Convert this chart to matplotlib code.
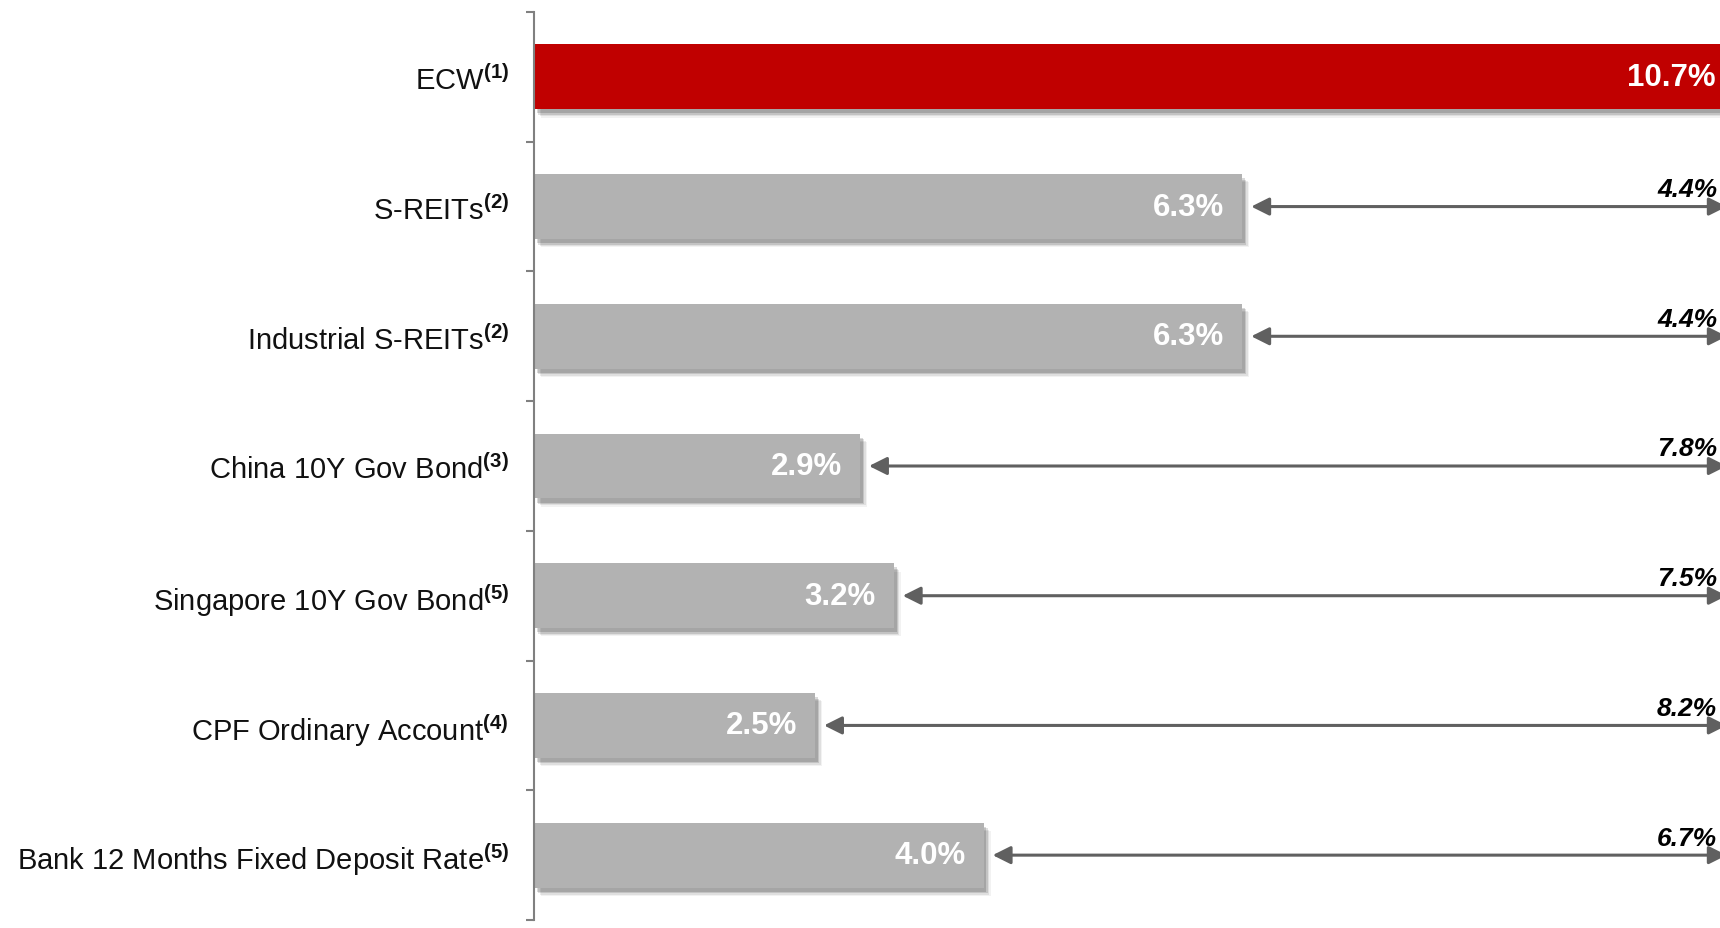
import matplotlib
matplotlib.use("Agg")
import matplotlib.pyplot as plt
import matplotlib.patheffects as pe

plt.rcParams['font.family'] = ['Liberation Sans', 'DejaVu Sans']
plt.rcParams['mathtext.fontset'] = 'custom'
plt.rcParams['mathtext.rm'] = 'Liberation Sans'
plt.rcParams['mathtext.bf'] = 'Liberation Sans:bold'

categories = ["ECW", "S-REITs", "Industrial S-REITs", "China 10Y Gov Bond",
              "Singapore 10Y Gov Bond", "CPF Ordinary Account",
              "Bank 12 Months Fixed Deposit Rate"]
notes = ["1", "2", "2", "3", "5", "4", "5"]
yields = [10.7, 6.3, 6.3, 2.9, 3.2, 2.5, 4.0]
spreads = [None, 4.4, 4.4, 7.8, 7.5, 8.2, 6.7]

RED = "#C00000"
GRAY = "#B2B2B2"
ARROW = "#606060"

fig = plt.figure(figsize=(17.2, 9.29), dpi=100)
ax = fig.add_axes([534 / 1720, 8 / 929, 1 - 534 / 1720, 908 / 929])

n = len(categories)
ypos = list(range(n))
colors = [RED] + [GRAY] * (n - 1)

shadow = [pe.SimplePatchShadow(offset=(5, -6), shadow_rgbFace="#000000", alpha=0.05),
          pe.SimplePatchShadow(offset=(4, -5), shadow_rgbFace="#000000", alpha=0.08),
          pe.SimplePatchShadow(offset=(3, -4), shadow_rgbFace="#000000", alpha=0.12),
          pe.SimplePatchShadow(offset=(2, -3), shadow_rgbFace="#000000", alpha=0.15),
          pe.Normal()]

bars = ax.barh(ypos, yields, height=0.5, color=colors, zorder=3, clip_on=True)
for b in bars:
    b.set_path_effects(shadow)

xmax = 10.55
for y, v in zip(ypos, yields):
    xt = min(v, xmax + 0.12)
    ax.annotate(f"{v:.1f}%", xy=(xt, y), xytext=(-13, 0), textcoords="offset points",
                ha="right", va="center", color="white", fontsize=22.5,
                fontweight="bold", zorder=5, annotation_clip=False)

for y, v, s in zip(ypos, yields, spreads):
    if s is None:
        continue
    ax.annotate("", xy=(v + 0.08, y), xytext=(xmax + 0.06, y),
                arrowprops=dict(arrowstyle="<|-|>", color=ARROW, lw=2.2,
                                mutation_scale=27, shrinkA=0, shrinkB=0),
                zorder=4, annotation_clip=False)
    ax.annotate(f"{s:.1f}%", xy=(xmax, y), xytext=(-2, 4), textcoords="offset points",
                ha="right", va="bottom", color="black", fontsize=19,
                fontweight="bold", fontstyle="italic", zorder=5,
                annotation_clip=False)

ax.set_xlim(0, xmax)
ax.set_ylim(n - 0.5, -0.5)

labels = [rf"{c}$^{{\mathbf{{({k})}}}}$" for c, k in zip(categories, notes)]
ax.set_yticks(ypos)
ax.set_yticklabels(labels, fontsize=21, color="#111111")
ax.tick_params(axis="y", which="major", length=0, pad=18)
ax.set_yticks([i - 0.5 for i in range(n + 1)], minor=True)
ax.tick_params(axis="y", which="minor", length=6, width=1.5, color="#808080", direction="out")
ax.set_xticks([])

for s in ["top", "right", "bottom"]:
    ax.spines[s].set_visible(False)
ax.spines["left"].set_color("#808080")
ax.spines["left"].set_linewidth(1.5)
ax.spines["left"].set_zorder(6)

fig.savefig("out.png", dpi=100)
